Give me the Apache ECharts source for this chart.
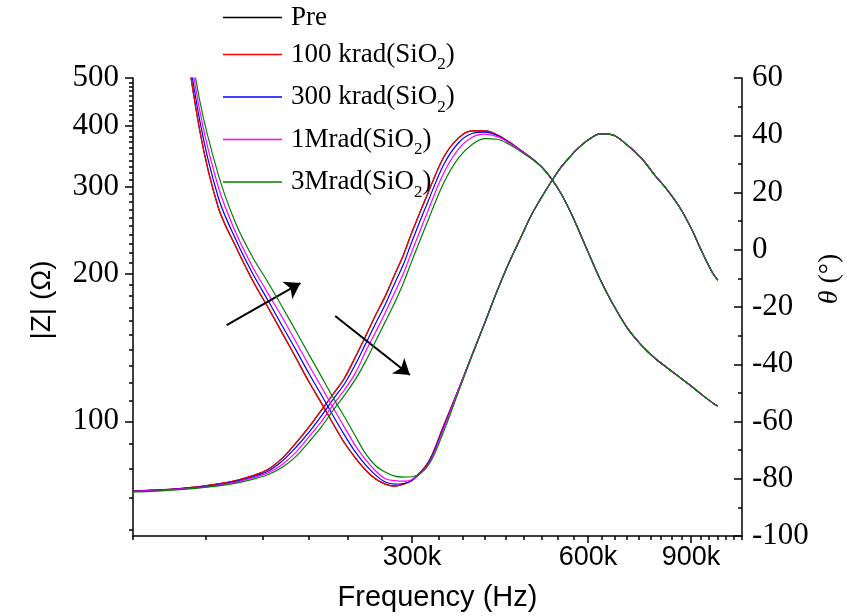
<!DOCTYPE html>
<html><head><meta charset="utf-8">
<script src="https://cdn.jsdelivr.net/npm/echarts@6/dist/echarts.min.js"></script>
<style>html,body{margin:0;padding:0;background:#fff}#c{width:847px;height:616px}</style>
</head><body><div id="c"></div>
<script>
// ---------- data ----------
const freqKHz = [100,110,120,130,140,150,160,170,180,190,200,210,220,230,240,250,260,270,280,290,300,
  320,340,360,380,400,420,440,460,480,500,520,540,560,580,600,
  630,660,700,740,780,820,860,900,940,980,1000];

const seriesNames = ['Pre','100 krad(SiO2)','300 krad(SiO2)','1Mrad(SiO2)','3Mrad(SiO2)'];
const seriesColors = ['#000000','#ff0000','#0000ff','#ff00ff','#008000'];

// |Z| (ohm)
const zPre   = [null,null,738,392,271.8,226.3,193.9,170.9,151.2,134.5,120.2,108.9,98.7,90.3,84.2,79.5,76.3,74.5,73.8,74.5,75.9,
  82.6,98.2,115.8,136.4,159.3,185.0,211.0,236.1,263.0,286.2,308.5,329.5,346.8,361.8,373.8,
  384.6,383.0,365.2,343.6,317.2,295.7,273.1,247.4,221.1,200.4,193.9];
const z100k  = [null,null,738,392,271.8,226.3,193.9,170.9,151.2,134.5,120.2,108.9,98.7,90.3,84.2,79.5,76.3,74.5,73.8,74.5,75.9,
  82.6,98.2,115.8,136.4,159.3,185.0,211.0,236.1,263.0,286.2,308.5,329.5,346.8,361.8,373.8,
  384.6,383.0,365.2,343.6,317.2,295.7,273.1,247.4,221.1,200.4,193.9];
const z300k  = [null,null,760,410.7,284.9,233.9,200.4,176.6,156.3,139.6,125.0,113.1,102.5,93.7,86.6,81.4,77.7,75.2,74.5,74.7,75.7,
  82.2,97.5,115.8,136.4,159.3,185.0,211.0,236.1,263.0,286.2,308.5,329.5,346.8,361.8,373.8,
  384.6,383.0,365.2,343.6,317.2,295.7,273.1,247.4,221.1,200.4,193.9];
const z1M    = [null,null,790,430.4,299.2,241.7,206.7,182.4,162.7,145.0,129.9,117.4,106.4,97.2,89.2,83.4,79.2,76.4,75.7,75.5,76.1,
  81.8,96.9,115.8,136.4,159.3,185.0,211.0,236.1,263.0,286.2,308.5,329.5,346.8,361.8,373.8,
  384.6,383.0,365.2,343.6,317.2,295.7,273.1,247.4,221.1,200.4,193.9];
const z3M    = [null,null,820,451.0,317.2,252.1,216.3,192.1,170.9,152.5,136.7,123.3,111.6,102.0,93.3,85.8,81.2,78.8,77.3,77.0,77.1,
  81.4,95.5,114.6,136.0,159.0,184.8,211.0,236.1,263.0,286.2,308.5,329.5,346.8,361.8,373.8,
  384.6,383.0,365.2,343.6,317.2,295.7,273.1,247.4,221.1,200.4,193.9];

// theta (deg)
const thPre  = [-84.3,-83.9,-83.4,-82.7,-81.8,-80.6,-79.0,-76.8,-72.8,-67.5,-61.9,-56.0,-50.4,-44.8,-37.5,-30.1,-22.8,-16.2,-8.8,-1.8,6.2,
  20.2,32.4,39.0,41.5,41.5,40.1,37.6,34.8,32.1,28.9,24.7,19.5,13.2,6.2,-0.8,
  -10.6,-18.6,-27.3,-33.3,-37.8,-41.3,-44.5,-47.6,-50.7,-53.5,-54.6];
const th100k = [-84.3,-83.9,-83.4,-82.7,-81.8,-80.6,-79.0,-76.8,-72.8,-67.5,-61.9,-56.0,-50.4,-44.8,-37.5,-30.1,-22.8,-16.2,-8.8,-1.8,6.2,
  20.2,32.4,39.0,41.5,41.5,40.1,37.6,34.8,32.1,28.9,24.7,19.5,13.2,6.2,-0.8,
  -10.6,-18.6,-27.3,-33.3,-37.8,-41.3,-44.5,-47.6,-50.7,-53.5,-54.6];
const th300k = [-84.4,-84.0,-83.5,-82.9,-82.1,-80.9,-79.4,-77.4,-73.8,-69.0,-63.7,-58.0,-52.2,-46.8,-40.1,-32.8,-25.7,-19.1,-11.9,-5.1,3.0,
  17.2,29.8,37.3,40.6,41.1,39.9,37.5,34.7,32.0,28.9,24.7,19.5,13.2,6.2,-0.8,
  -10.6,-18.6,-27.3,-33.3,-37.8,-41.3,-44.5,-47.6,-50.7,-53.5,-54.6];
const th1M   = [-84.5,-84.1,-83.6,-83.1,-82.3,-81.2,-79.7,-78.0,-75.0,-70.7,-65.3,-60.0,-54.1,-48.9,-43.1,-35.5,-28.7,-22.0,-15.0,-8.3,-0.5,
  14.0,26.9,35.1,39.3,40.4,39.5,37.3,34.6,31.9,28.9,24.7,19.5,13.2,6.2,-0.8,
  -10.6,-18.6,-27.3,-33.3,-37.8,-41.3,-44.5,-47.6,-50.7,-53.5,-54.6];
const th3M   = [-84.6,-84.3,-83.8,-83.2,-82.5,-81.5,-80.2,-78.6,-76.0,-72.2,-67.1,-61.9,-56.0,-50.8,-45.3,-38.9,-31.9,-25.2,-18.6,-11.6,-3.8,
  10.6,23.4,32.0,36.8,38.8,38.6,36.8,34.3,31.8,28.8,24.7,19.5,13.2,6.2,-0.8,
  -10.6,-18.6,-27.3,-33.3,-37.8,-41.3,-44.5,-47.6,-50.7,-53.5,-54.6];

// axis ticks
const xMajorKHz = [300, 600, 900];
const xMinorKHz = [100,133.33,166.67,200,233.33,266.67,333.33,366.67,400,433.33,466.67,500,533.33,566.67,
  633.33,666.67,700,733.33,766.67,800,833.33,866.67,933.33,966.67,1000,1033.33,1066.67,1100];
const xRangeKHz = [100, 1100];
const zMajor = [100,200,300,400,500];
const zMinor = [60,70,80,90,110,120,130,140,150,160,170,180,190,210,220,230,240,250,260,270,280,290,
  310,320,330,340,350,360,370,380,390,410,420,430,440,450,460,470,480,490];
const zRange = [58.4, 500];
const thRange = [-100, 60];

// arrows [freq kHz, |Z| ohm]
const arrow1 = [[144.6, 157.0], [193.3, 191.2]];
const arrow2 = [[221.7, 163.8], [297.5, 124.2]];

// ---------- chart ----------
const L = Math.log10;
const zSets = [zPre, z100k, z300k, z1M, z3M];
const thSets = [thPre, th100k, th300k, th1M, th3M];
const zOrder = [1, 2, 3, 4, 5];

const series = [];
seriesNames.forEach((nm, k) => {
  const zd = [];
  freqKHz.forEach((f, i) => { if (zSets[k][i] != null) zd.push([L(f * 1000), L(zSets[k][i])]); });
  const s1 = {
    name: nm, type: 'line', xAxisIndex: 0, yAxisIndex: 0, data: zd,
    symbol: 'none', showSymbol: false, smooth: 0.35, z: zOrder[k],
    lineStyle: { color: seriesColors[k], width: 1.2 }, itemStyle: { color: seriesColors[k] }
  };
  if (k === 0) {
    s1.markLine = {
      silent: true, symbol: ['none', 'arrow'], symbolSize: 15, animation: false,
      label: { show: false },
      lineStyle: { color: '#000', width: 2, type: 'solid' },
      data: [arrow1, arrow2].map(a => [
        { coord: [L(a[0][0] * 1000), L(a[0][1])] },
        { coord: [L(a[1][0] * 1000), L(a[1][1])] }
      ])
    };
  }
  series.push(s1);
  series.push({
    name: nm, type: 'line', xAxisIndex: 0, yAxisIndex: 2,
    data: freqKHz.map((f, i) => [L(f * 1000), thSets[k][i]]),
    symbol: 'none', showSymbol: false, smooth: 0.35, z: zOrder[k],
    lineStyle: { color: seriesColors[k], width: 1.2 }, itemStyle: { color: seriesColors[k] }
  });
});

const axisLineStyle = { color: '#000', width: 1.5 };
const xMin = L(xRangeKHz[0] * 1000), xMax = L(xRangeKHz[1] * 1000);
const yMin = L(zRange[0]), yMax = L(zRange[1]);

const option = {
  animation: false,
  backgroundColor: '#fff',
  grid: { left: 133, right: 105, top: 78, bottom: 80, containLabel: false, outerBoundsMode: 'none' },
  legend: {
    orient: 'vertical', left: 223, top: 4, padding: 0, itemGap: 10,
    icon: 'rect', itemWidth: 59, itemHeight: 1.5,
    data: seriesNames,
    formatter: function (name) {
      if (name.indexOf('SiO2') < 0) return '{a|' + name + '}';
      const p = name.split('SiO2');
      return '{a|' + p[0] + 'SiO}{s|2}{a|' + p[1] + '}';
    },
    textStyle: {
      padding: [0, 0, 0, 4],
      rich: {
        a: { fontFamily: 'Liberation Serif', fontSize: 27, color: '#000', lineHeight: 24, verticalAlign: 'middle' },
        s: { fontFamily: 'Liberation Serif', fontSize: 17, color: '#000', lineHeight: 38, verticalAlign: 'bottom' }
      }
    }
  },
  xAxis: [
    {
      type: 'value', min: xMin, max: xMax, position: 'bottom',
      axisLine: { show: true, onZero: false, lineStyle: axisLineStyle },
      axisTick: { show: true, customValues: xMajorKHz.map(v => L(v * 1000)), length: 7, lineStyle: axisLineStyle },
      axisLabel: {
        customValues: xMajorKHz.map(v => L(v * 1000)),
        formatter: v => Math.round(Math.pow(10, v) / 1000) + 'k',
        fontFamily: 'Liberation Sans', fontSize: 27, color: '#000', margin: 8
      },
      splitLine: { show: false },
      name: 'Frequency (Hz)', nameLocation: 'middle', nameGap: 47, nameMoveOverlap: false,
      nameTextStyle: { fontFamily: 'Liberation Sans', fontSize: 29, color: '#000' }
    },
    {
      type: 'value', min: xMin, max: xMax, position: 'bottom',
      axisLine: { show: false, onZero: false },
      axisTick: { show: true, customValues: xMinorKHz.map(v => L(v * 1000)), length: 4, lineStyle: axisLineStyle },
      axisLabel: { show: false }, splitLine: { show: false }
    }
  ],
  yAxis: [
    {
      type: 'value', min: yMin, max: yMax, position: 'left',
      axisLine: { show: true, onZero: false, lineStyle: axisLineStyle },
      axisTick: { show: true, customValues: zMajor.map(v => L(v)), length: 8, lineStyle: axisLineStyle },
      axisLabel: {
        customValues: zMajor.map(v => L(v)),
        formatter: v => String(Math.round(Math.pow(10, v))),
        fontFamily: 'Liberation Serif', fontSize: 31, color: '#000', margin: 14
      },
      splitLine: { show: false },
      name: '|Z| (Ω)', nameLocation: 'middle', nameRotate: 90, nameGap: 77, nameMoveOverlap: false,
      nameTextStyle: { fontFamily: 'Liberation Sans', fontSize: 28, color: '#000', padding: [0, 0, 0, 14] }
    },
    {
      type: 'value', min: yMin, max: yMax, position: 'left',
      axisLine: { show: false, onZero: false },
      axisTick: { show: true, customValues: zMinor.map(v => L(v)), length: 4, lineStyle: axisLineStyle },
      axisLabel: { show: false }, splitLine: { show: false }
    },
    {
      type: 'value', min: thRange[0], max: thRange[1], interval: 20, position: 'right',
      axisLine: { show: true, onZero: false, lineStyle: axisLineStyle },
      axisTick: { show: true, inside: true, length: 8, lineStyle: axisLineStyle },
      minorTick: { show: true, splitNumber: 2, length: 4, lineStyle: axisLineStyle },
      axisLabel: { fontFamily: 'Liberation Serif', fontSize: 31, color: '#000', margin: 10, showMinLabel: true, showMaxLabel: true },
      splitLine: { show: false }, minorSplitLine: { show: false },
      name: '{i|θ}{n| (°)}', nameLocation: 'middle', nameRotate: 90, nameGap: 74, nameMoveOverlap: false,
      nameTextStyle: {
        padding: [0, 0, 0, 56],
        rich: {
          i: { fontFamily: 'Liberation Serif', fontStyle: 'italic', fontSize: 28, color: '#000' },
          n: { fontFamily: 'Liberation Serif', fontSize: 28, color: '#000' }
        }
      }
    }
  ],
  series: series
};

const chart = echarts.init(document.getElementById('c'), null, { renderer: 'canvas' });
chart.setOption(option);
</script>
</body></html>
